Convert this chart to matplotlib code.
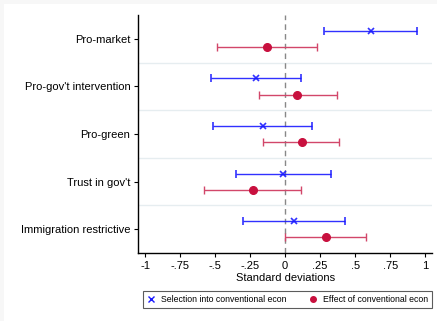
import numpy as np
import matplotlib.pyplot as plt
from matplotlib.patches import Rectangle
from matplotlib.lines import Line2D

plt.rcParams['font.family'] = ['Liberation Sans', 'DejaVu Sans']

categories = ["Pro-market", "Pro-gov't intervention", "Pro-green",
              "Trust in gov't", "Immigration restrictive"]

# selection into conventional econ (blue)
sel_est = [0.61, -0.21, -0.16, -0.012, 0.064]
sel_lo = [0.274, -0.531, -0.517, -0.35, -0.30]
sel_hi = [0.943, 0.114, 0.195, 0.326, 0.426]

# effect of conventional econ (red)
eff_est = [-0.13, 0.088, 0.117, -0.233, 0.29]
eff_lo = [-0.488, -0.19, -0.155, -0.579, 0.0]
eff_hi = [0.23, 0.367, 0.388, 0.112, 0.576]

xticks = [-1, -0.75, -0.5, -0.25, 0, 0.25, 0.5, 0.75, 1]
xticklabels = ["-1", "-.75", "-.5", "-.25", "0", ".25", ".5", ".75", "1"]

blue = '#1a1aff'
red = '#c8103e'

fig = plt.figure(figsize=(4.37, 3.21), dpi=100, facecolor='white')
# thin light-grey strips along the top and left edge
fig.patches.append(Rectangle((0, 1 - 4 / 321), 1, 4 / 321,
                             transform=fig.transFigure,
                             facecolor='#f7f7f7', edgecolor='none',
                             zorder=-10))
fig.patches.append(Rectangle((0, 0), 4 / 437, 1,
                             transform=fig.transFigure,
                             facecolor='#f7f7f7', edgecolor='none',
                             zorder=-10))
ax = fig.add_axes([0.316, 0.212, 0.673, 0.741])
ax.patch.set_alpha(0)

pos = np.arange(len(categories))
off = 0.17

for i in range(len(categories) - 1):
    ax.axhline(i + 0.5, color='#e6edf0', lw=1, zorder=0)

ax.axvline(0, color='#888888', lw=1, ls=(0, (4, 3)), zorder=1)

ys = pos - off
ax.errorbar(sel_est, ys,
            xerr=[np.array(sel_est) - np.array(sel_lo),
                  np.array(sel_hi) - np.array(sel_est)],
            fmt='x', color=blue, ecolor=blue, elinewidth=1, capsize=3,
            capthick=1, markersize=5, mew=1.2, alpha=0.9, zorder=3)
ye = pos + off
ax.errorbar(eff_est, ye,
            xerr=[np.array(eff_est) - np.array(eff_lo),
                  np.array(eff_hi) - np.array(eff_est)],
            fmt='o', color=red, ecolor='#d2476a', elinewidth=1, capsize=3,
            capthick=1, markersize=5.5, zorder=3)

ax.set_ylim(len(categories) - 0.5, -0.5)
ax.set_xlim(-1.05, 1.05)
ax.set_yticks(pos)
ax.set_yticklabels(categories, fontsize=8)
ax.set_xticks(xticks)
ax.set_xticklabels(xticklabels, fontsize=8)
ax.set_xlabel('Standard deviations', fontsize=8, labelpad=2)
ax.tick_params(axis='both', length=3, width=0.8, pad=2.5)

for s in ['top', 'right']:
    ax.spines[s].set_visible(False)
for s in ['left', 'bottom']:
    ax.spines[s].set_linewidth(1)

handles = [Line2D([], [], ls='none', marker='x', color=blue, markersize=4,
                  mew=1),
           Line2D([], [], ls='none', marker='o', color=red, markersize=4)]
labels = ['Selection into conventional econ', 'Effect of conventional econ']
leg = fig.legend(handles, labels, loc='lower left',
                 bbox_to_anchor=(143 / 437, 1 - 308 / 321,
                                 289 / 437, 18 / 321),
                 mode='expand', ncol=2, fontsize=6.3, frameon=True,
                 fancybox=False, edgecolor='#333333', handlelength=1,
                 handletextpad=0.6, borderaxespad=0, borderpad=0.45,
                 columnspacing=1.0)
leg.get_frame().set_linewidth(0.8)

fig.savefig('out.png', dpi=100, facecolor=fig.get_facecolor())
